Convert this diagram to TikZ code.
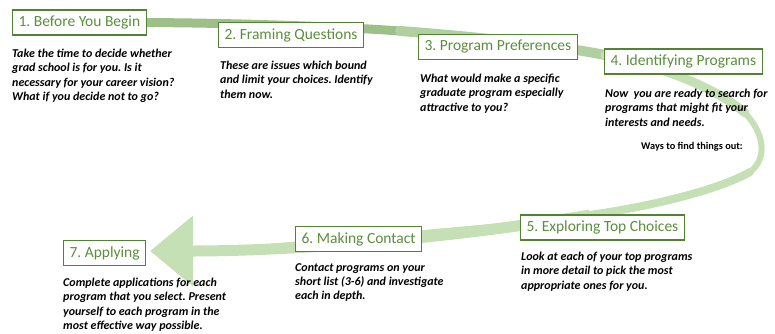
\documentclass[tikz,border=0pt]{standalone}
\usepackage{fontspec}
\setmainfont{Carlito}
\usetikzlibrary{positioning,arrows.meta,backgrounds}
\definecolor{boxgreen}{HTML}{548235}
\definecolor{titlegreen}{HTML}{5A8F3C}
\definecolor{bandA}{HTML}{9DBF88}
\definecolor{bandB}{HTML}{B2CF9F}
\definecolor{bandC}{HTML}{C5E0B4}
\frenchspacing

\begin{document}
\begin{tikzpicture}[x=1pt,y=-1pt]
		\tikzstyle{stage} = [draw=boxgreen, line width=1.1pt, fill=white, text=titlegreen,
		font=\fontsize{15.5}{18}\selectfont, minimum height=25pt, inner xsep=6pt, inner ysep=0pt, anchor=west]
		\tikzstyle{note} = [anchor=north west, align=left, inner sep=0pt,
		font=\fontsize{12}{14.3}\selectfont\bfseries\itshape]
		\tikzstyle{band} = [draw=bandC, line cap=round]
		
		\useasboundingbox (0,0) rectangle (775,333);
		
		\node [stage] (v1) at (12,22.5) {1. Before You Begin};
		\node [stage] (v2) at (218,35) {2. Framing Questions};
		\node [stage] (v3) at (418,47) {3. Program Preferences};
		\node [stage] (v4) at (604,61.5) {4. Identifying Programs};
		\node [stage] (v5) at (520,227.5) {5. Exploring Top Choices};
		\node [stage] (v6) at (295,239) {6. Making Contact};
		\node [stage] (v7) at (63,253) {7. Applying};
		
		\node [note] (d1) at (12,49) {Take the time to decide whether\\grad school is for you. Is it\\necessary for your career vision?\\What if you decide not to go?};
		\node [note] (d2) at (220,61) {These are issues which bound\\and limit your choices. Identify\\them now.};
		\node [note] (d3) at (420,74) {What would make a specific\\graduate program especially\\attractive to you?};
		\node [note] (d4) at (605,89) {Now~ you are ready to search for\\programs that might fit your\\interests and needs.};
		\node [anchor=west, inner sep=0pt, font=\fontsize{10.3}{12}\selectfont\bfseries] (ways) at (641,147) {Ways to find things out:};
		\node [note] (d5) at (521,252) {Look at each of your top programs\\in more detail to pick the most\\appropriate ones for you.};
		\node [note] (d6) at (295,263) {Contact programs on your\\short list (3-6) and investigate\\each in depth.};
		\node [note] (d7) at (63,278) {Complete applications for each\\program that you select. Present\\yourself to each program in the\\most effective way possible.};
		
		\coordinate (c1) at (400,31);
		\coordinate (c2) at (605,55);
		\coordinate (c3) at (745,113);
		\coordinate (c4) at (750,172);
		\coordinate (c5) at (590,215);
		\coordinate (tip) at (150,251);
		
		\begin{pgfonlayer}{background}
		\draw [band, draw=bandA, line width=9pt] (v1.east) .. controls (230,23) and (330,26) .. (c1);
		\draw [band, draw=bandB, line width=10pt] (c1) .. controls (480,37) and (560,46) .. (c2);
		\draw [band, line width=9pt] (c2) .. controls (650,64) and (712,84) .. (c3);
		\draw [band, line width=6pt] (c3) .. controls (764,133) and (768,158) .. (c4);
		\draw [band, line width=8pt] (c4) .. controls (722,188) and (660,205) .. (c5);
		\draw [band, line width=11pt, line cap=butt, -{Triangle[length=43pt,width=68pt]}, fill=bandC] (c5) .. controls (450,238) and (300,251) .. (tip);
		\end{pgfonlayer}
\end{tikzpicture}
\end{document}
